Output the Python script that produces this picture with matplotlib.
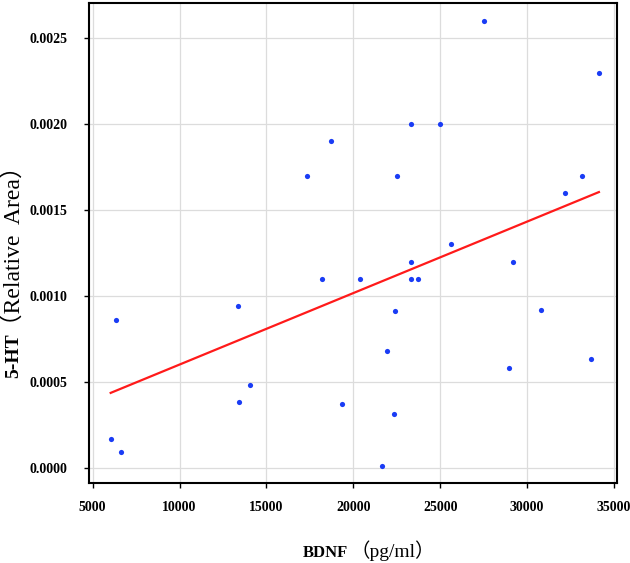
import numpy as np
import matplotlib.pyplot as plt

# BDNF (pg/ml) vs 5-HT relative area
bdnf = [6358, 13343, 14051, 13418, 6036, 6646, 17313,
        27515, 34131, 23314, 25000, 18711, 22526, 33135, 32175,
        25616, 23314, 29201, 18211, 20397, 23314, 23700,
        22411, 30777, 21916, 33654, 28936, 19327, 22319, 21628]
ht5 = [0.00086, 0.00094, 0.00048, 0.00038, 0.00017, 0.00009, 0.00170,
       0.00260, 0.00230, 0.00200, 0.00200, 0.00190, 0.00170, 0.00170, 0.00160,
       0.00130, 0.00120, 0.00120, 0.00110, 0.00110, 0.00110, 0.00110,
       0.00091, 0.00092, 0.00068, 0.00063, 0.00058, 0.00037, 0.00031, 0.00001]

xticks = [5000, 10000, 15000, 20000, 25000, 30000, 35000]
yticks = [0.0000, 0.0005, 0.0010, 0.0015, 0.0020, 0.0025]

fam = ['Liberation Serif', 'Noto Sans CJK SC', 'DejaVu Sans']
plt.rcParams['font.family'] = fam

fig = plt.figure(figsize=(6.3, 5.63), dpi=100)
ax = fig.add_axes([0.1417, 0.1426, 0.838, 0.852])

ax.scatter(bdnf, ht5, s=14, color='#1a3cf5', zorder=3, linewidths=0)

k, b = np.polyfit(bdnf, ht5, 1)
xs = np.array([min(bdnf), max(bdnf)])
ax.plot(xs, k * xs + b, color='#ff1a1a', lw=1.6, zorder=2)

ax.set_xlim(4804, 35184)
ax.set_ylim(-0.0000873, 0.002705)
ax.set_xticks(xticks)
ax.set_yticks(yticks)
ax.set_xticklabels([str(v) for v in xticks])
ax.set_yticklabels(['%.4f' % v for v in yticks])
ax.grid(True, color='#dcdcdc', lw=0.9)
ax.set_axisbelow(True)
for s in ax.spines.values():
    s.set_linewidth(1.5)
ax.tick_params(direction='out', length=3.5, width=1, labelsize=10)
ax.tick_params(axis='x', pad=10)
ax.tick_params(axis='y', pad=12)
for t in ax.get_xticklabels() + ax.get_yticklabels():
    t.set_fontweight('bold')

# axis titles, bold name + normal unit
fig.text(348 / 630, 1 - 557 / 563, 'BDNF', fontsize=12, fontweight='bold',
         ha='right', va='baseline')
fig.text(350 / 630, 1 - 557 / 563, '（pg/ml）', fontsize=14,
         ha='left', va='baseline')
fig.text(14 / 630, 1 - 378 / 563, '5-HT', fontsize=14, fontweight='bold',
         rotation=90, ha='center', va='bottom')
fig.text(14 / 630, 1 - 337 / 563, '（Relative  Area）', fontsize=17,
         rotation=90, ha='center', va='bottom')

fig.savefig('out.png', dpi=100)
